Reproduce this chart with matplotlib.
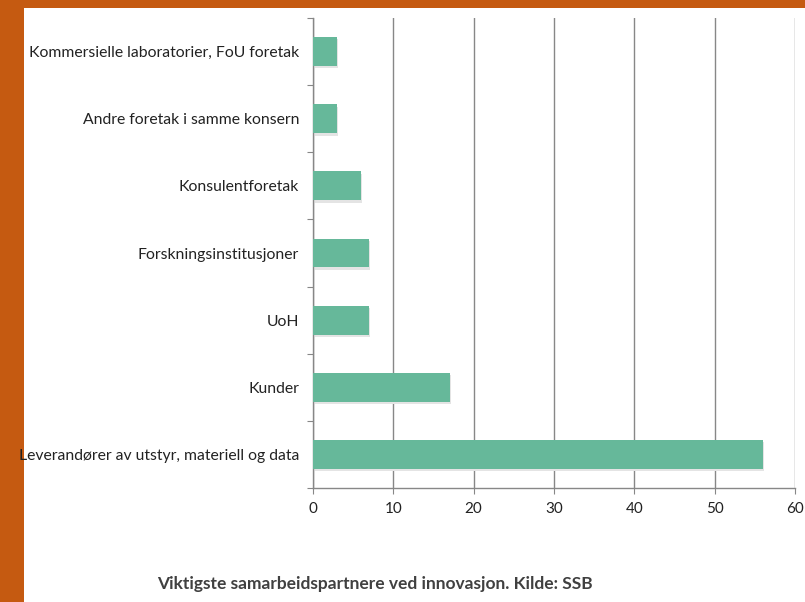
import matplotlib
matplotlib.use("Agg")
import matplotlib.pyplot as plt
from matplotlib.patches import Rectangle
import numpy as np

categories = [
    "Leverandører av utstyr, materiell og data",
    "Kunder",
    "UoH",
    "Forskningsinstitusjoner",
    "Konsulentforetak",
    "Andre foretak i samme konsern",
    "Kommersielle laboratorier, FoU foretak",
]
values = [56, 17, 7, 7, 6, 3, 3]
xticks = [0, 10, 20, 30, 40, 50, 60]
caption = "Viktigste samarbeidspartnere ved innovasjon. Kilde: SSB"

plt.rcParams['font.family'] = ['Lato', 'DejaVu Sans']

W, H = 805, 602
fig = plt.figure(figsize=(W / 100, H / 100), dpi=100)
fig.patch.set_facecolor('#C55A11')
fig.add_artist(Rectangle((24 / W, 0), 1 - 24 / W, 1 - 8 / H, transform=fig.transFigure,
                         facecolor='white', edgecolor='none', zorder=0))

ax = fig.add_axes([313 / W, 1 - 488 / H, (795 - 313) / W, (488 - 18) / H])
ax.set_facecolor('none')
y = np.arange(len(categories))
bh = 0.43
# subtle shadow
ax.barh(y - 0.035, values, height=bh, left=0.12, color='#e4e4e4', zorder=2)
ax.barh(y, values, height=bh, color='#66B89A', zorder=3)

ax.set_xlim(0, 60)
ax.set_ylim(-0.5, len(categories) - 0.5)
ax.set_xticks(xticks)
ax.set_xticklabels([str(t) for t in xticks], fontsize=11, color='#222222')
ax.xaxis.grid(True, color='#878787', linewidth=1, zorder=1)
ax.set_axisbelow(True)

ax.set_yticks(np.arange(-0.5, len(categories), 1.0))
ax.set_yticklabels([])
ax.set_yticks(y, minor=True)
ax.set_yticklabels(categories, minor=True, fontsize=11.3, color='#222222')
ax.tick_params(axis='y', which='major', length=4, color='#878787')
ax.tick_params(axis='y', which='minor', length=0, pad=10)
ax.tick_params(axis='x', length=4, color='#878787', pad=6)

for s in ['top', 'right']:
    ax.spines[s].set_visible(False)
for s in ['left', 'bottom']:
    ax.spines[s].set_color('#878787')
    ax.spines[s].set_linewidth(1)

fig.text(375 / W, 1 - 584 / H, caption, ha='center', va='center', fontsize=12.5,
         fontweight='bold', color='#404040')

fig.savefig('out.png', dpi=100)
